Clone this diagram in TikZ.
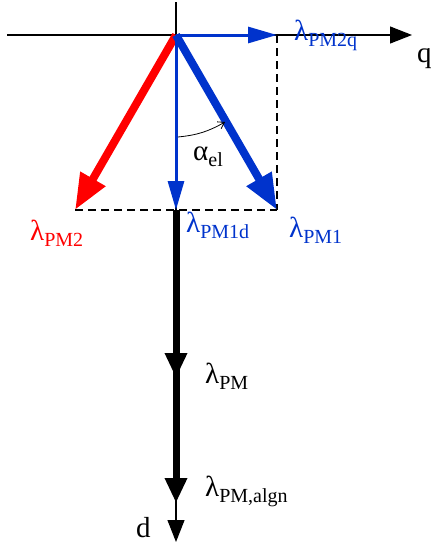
\documentclass[tikz,border=0pt]{standalone}
\usepackage{fontspec}
\setmainfont{Liberation Serif}
\usetikzlibrary{arrows.meta,calc}
\definecolor{pmblue}{RGB}{0,51,204}
\newcommand{\vsub}[2]{{\fontsize{29}{30}\selectfont #1}\raisebox{-6pt}{\fontsize{20}{22}\selectfont #2}}
\tikzset{
  axisline/.style={line width=1.1pt},
  axisarrow/.style={axisline, -{Triangle[length=22pt,width=17pt]}},
  thinvec/.style={line width=3pt, -{Triangle[length=29pt,width=16pt]}},
  thickvec/.style={line width=8pt, -{Triangle[length=36pt,width=27pt]}},
  pmvec/.style={line width=7pt, -{Triangle[length=25pt,width=21pt]}},
  helpline/.style={line width=1.1pt, dash pattern=on 8pt off 5pt},
  vlabel/.style={anchor=base west, inner sep=0pt, font=\fontsize{29}{30}\selectfont}
}
\begin{document}
\begin{tikzpicture}[x=1pt,y=-1pt]
\useasboundingbox (0,0) rectangle (433,544);
% points
\coordinate (O) at (176,35);
\coordinate (qend) at (412,35);
\coordinate (qstart) at (7,35);
\coordinate (top) at (176,2);
\coordinate (dend) at (176,542);
\coordinate (PM2q) at (277,35);
\coordinate (PM1) at (277,210);
\coordinate (PM2) at (75,210);
\coordinate (PM1d) at (176,210);
\coordinate (PM) at (176,378);
\coordinate (PMalgn) at (176,503);
\coordinate (a1) at (178,137);
\coordinate (a2) at (225,122);
% axes
\draw[axisarrow] (qstart) -- (qend);
\draw[axisarrow] (top) -- (dend);
% flux linkage
\draw[pmvec] (PM1d) -- (PM);
\draw[pmvec] (PM1d) -- (PMalgn);
% projections
\draw[helpline] (PM2q) -- (PM1);
\draw[helpline] (PM2) -- (PM1);
\draw[thickvec, red] (O) -- (PM2);
\draw[thickvec, pmblue] (O) -- (PM1);
\draw[thinvec, pmblue] (O) -- (PM1d);
\draw[thinvec, pmblue] (O) -- (PM2q);
\draw[line width=0.8pt, -{Straight Barb[length=6pt,width=8pt]}] (a1) to[bend right=12] (a2);
% labels
\node[vlabel, pmblue] (lPM2q) at (294,40) {\vsub{λ}{PM2q}};
\node[vlabel] (lq) at (417,62) {q};
\node[vlabel, red] (lPM2) at (30,240) {\vsub{λ}{PM2}};
\node[vlabel, pmblue] (lPM1d) at (186,232) {\vsub{λ}{PM1d}};
\node[vlabel, pmblue] (lPM1) at (289,237) {\vsub{λ}{PM1}};
\node[vlabel] (lalpha) at (193,160) {\vsub{α}{el}};
\node[vlabel] (lPM) at (205,383) {\vsub{λ}{PM}};
\node[vlabel] (lPMalgn) at (205,496) {\vsub{λ}{PM,algn}};
\node[vlabel] (ld) at (136,537) {d};
\end{tikzpicture}
\end{document}
